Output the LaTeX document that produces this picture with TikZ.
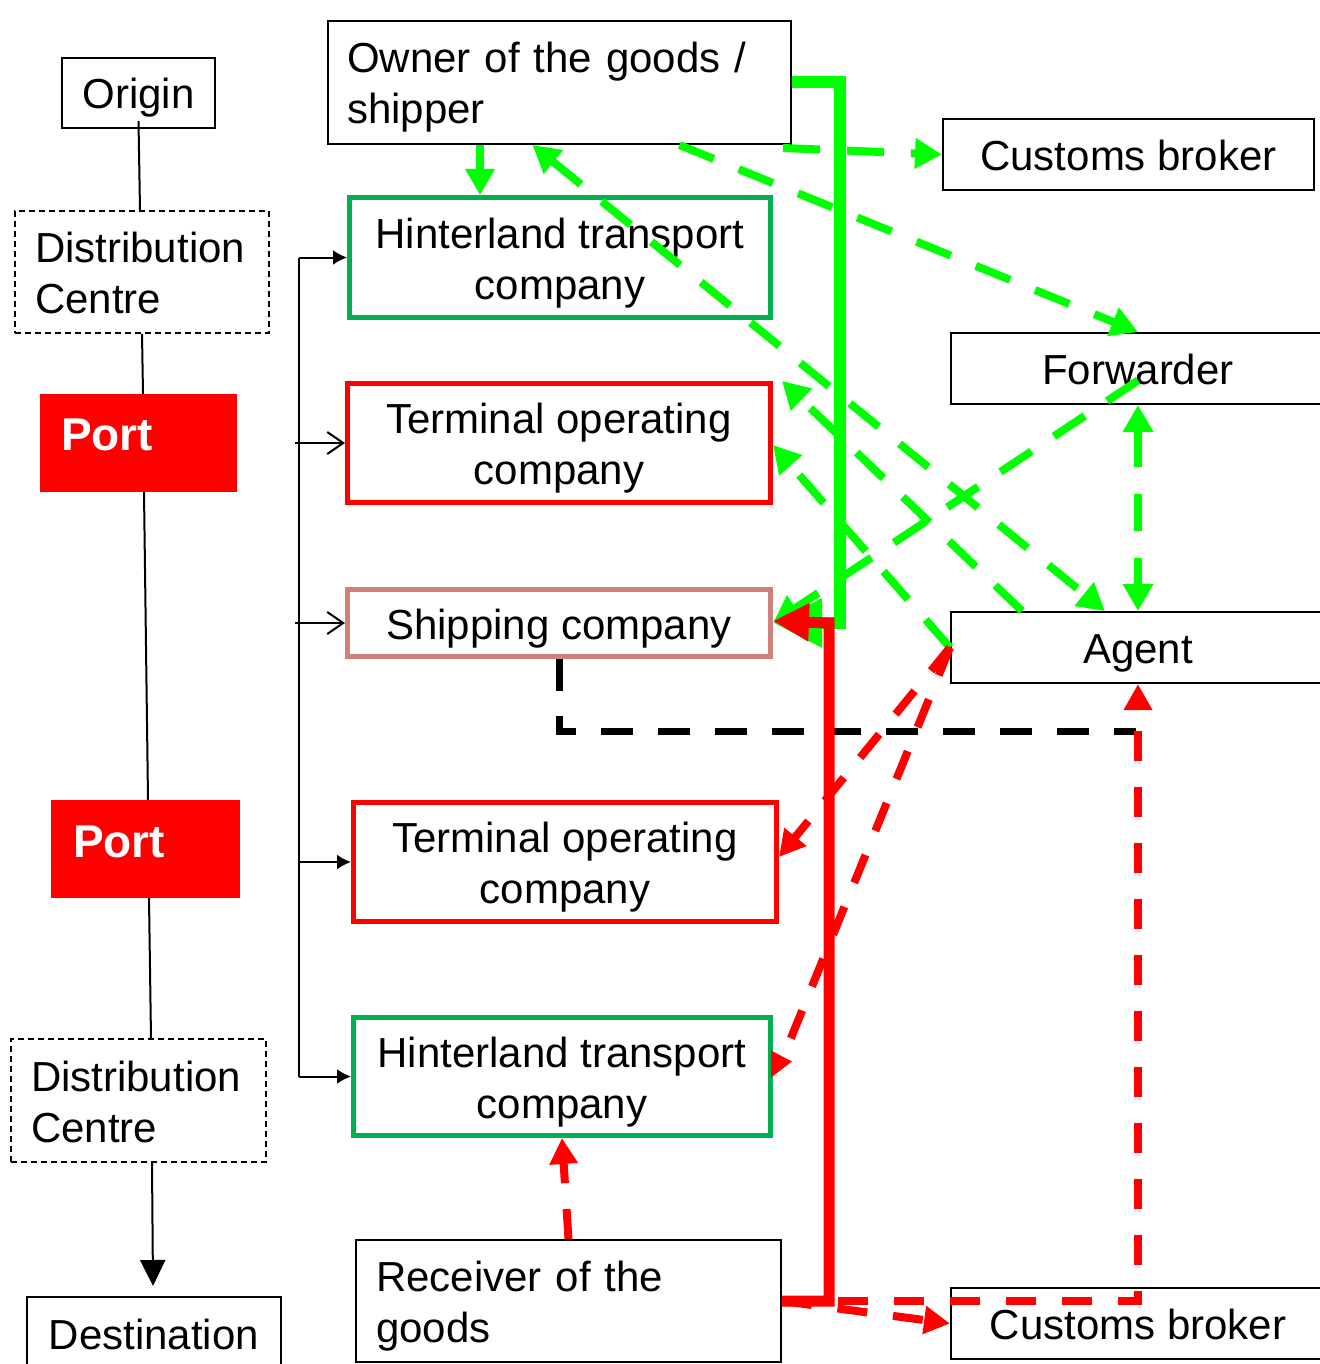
\documentclass[tikz,border=0pt]{standalone}
\usepackage{fontspec}
\setmainfont{Liberation Sans}
\usetikzlibrary{arrows.meta}
\definecolor{lime}{RGB}{0,255,0}
\definecolor{boxgreen}{RGB}{0,176,80}
\definecolor{boxred}{RGB}{255,0,0}
\definecolor{rosy}{RGB}{208,128,122}
\tikzset{
  gtip/.tip={Triangle[length=27pt,width=29pt]},
  rtip/.tip={Triangle[length=26pt,width=27pt]},
}
\begin{document}
\begin{tikzpicture}[x=1pt,y=-1pt,
  every node/.style={font=\fontsize{42}{51}\selectfont, inner sep=0pt},
  oneline/.style={text height=32pt, text depth=0pt},
  twoline/.style={text height=32pt, text depth=51pt},
  twolinec/.style={text height=83pt, text depth=0pt},
  thinbox/.style={draw=black, line width=2pt},
  dashbox/.style={draw=black, line width=1.6pt, dash pattern=on 6pt off 4pt},
  portbox/.style={fill=boxred, text=white, font=\fontsize{46}{51}\selectfont\bfseries},
  greenbox/.style={draw=boxgreen, line width=5pt, align=center},
  redbox/.style={draw=boxred, line width=5pt, align=center},
  rosybox/.style={draw=rosy, line width=5pt, align=center},
  wire/.style={draw=black, line width=2pt},
  gsolid/.style={draw=lime, line width=8pt},
  gdash/.style={draw=lime, line width=8pt, dash pattern=on 37pt off 27pt},
  rdash/.style={draw=red, line width=8pt, dash pattern=on 30pt off 26pt},
  kdash/.style={draw=black, line width=7pt, dash pattern=on 32pt off 25pt},
]
\useasboundingbox (0,0) rectangle (1319,1364);
\fill[white] (0,0) rectangle (1319,1364);

% chain of places, left column
\node[thinbox, oneline, minimum width=153pt, minimum height=70pt] (origin) at (138.5,93) {Origin};
\node[dashbox, twoline, minimum width=254pt, minimum height=122pt, text width=214pt, align=left] (dc1) at (142,272) {Distribution\\Centre};
\node[portbox, minimum width=197pt, minimum height=98pt, text width=155pt, align=left, text depth=16pt] (port1) at (138.5,443) {Port};
\node[portbox, minimum width=189pt, minimum height=98pt, text width=145pt, align=left, text depth=14pt] (port2) at (145.5,849) {Port};
\node[dashbox, twoline, minimum width=255pt, minimum height=123pt, text width=215pt, align=left] (dc2) at (138.5,1100.5) {Distribution\\Centre};
\node[thinbox, oneline, minimum width=254pt, minimum height=72pt] (dest) at (154,1333) {Destination};

% actors, middle column
\node[thinbox, twoline, minimum width=463pt, minimum height=123pt, text width=425pt, align=left] (owner) at (559.5,82.5) {Owner of the goods /\\shipper};
\node[greenbox, twolinec, minimum width=421pt, minimum height=120pt] (hint1) at (560,257.5) {Hinterland transport\\company};
\node[redbox, twolinec, minimum width=423pt, minimum height=119pt] (term1) at (559,443) {Terminal operating\\company};
\node[rosybox, oneline, minimum width=423pt, minimum height=67pt] (ship) at (559,623) {Shipping company};
\node[redbox, twolinec, minimum width=423pt, minimum height=119pt] (term2) at (565,862) {Terminal operating\\company};
\node[greenbox, twolinec, minimum width=417pt, minimum height=118pt] (hint2) at (562,1076.5) {Hinterland transport\\company};
\node[thinbox, twoline, minimum width=425pt, minimum height=122pt, text width=385pt, align=left] (receiver) at (568.5,1301) {Receiver of the\\goods};

% intermediaries, right column
\node[thinbox, oneline, minimum width=371pt, minimum height=71pt] (cb1) at (1128.5,154.5) {Customs broker};
\node[thinbox, oneline, minimum width=374pt, minimum height=71pt] (fwd) at (1138,368.5) {Forwarder};
\node[thinbox, oneline, minimum width=374pt, minimum height=71pt] (agent) at (1138,647.5) {Agent};
\node[thinbox, oneline, minimum width=374pt, minimum height=71pt] (cb2) at (1138,1323.5) {Customs broker};

% helper coordinates
\coordinate (bus) at (299,0);
\coordinate (busL) at (295,0);
\coordinate (gx) at (480,0);
\coordinate (gv) at (840,0);
\coordinate (rv) at (829,0);
\coordinate (blk) at (1136,731);

% left chain
\draw[wire] ([yshift=8pt]origin.south) -- ([xshift=-2pt]dc1.north);
\draw[wire] (dc1.south) -- ([xshift=4.5pt]port1.north);
\draw[wire] ([xshift=5.5pt]port1.south) -- ([xshift=2.5pt]port2.north);
\draw[wire] ([xshift=3.5pt]port2.south) -- ([xshift=12.5pt]dc2.north);
\draw[wire, -{Triangle[length=26pt,width=25pt]}] ([xshift=13.5pt]dc2.south) -- ([xshift=-1pt,yshift=10pt]dest.north);

% bracket to the actors
\draw[wire] (bus |- hint1.west) -- (bus |- hint2.west);
\draw[wire, -{Latex[length=14pt,width=15pt]}] (bus |- hint1.west) -- (hint1.west);
\draw[wire, -{Straight Barb[length=16pt,width=22pt]}] (busL |- term1.west) -- (term1.west);
\draw[wire, -{Straight Barb[length=16pt,width=22pt]}] (busL |- ship.west) -- (ship.west);
\draw[wire, -{Latex[length=14pt,width=15pt]}] (bus |- term2.west) -- (term2.west);
\draw[wire, -{Latex[length=14pt,width=15pt]}] (bus |- hint2.west) -- (hint2.west);

% export side flows
\draw[lime, line width=12pt, -{Triangle[length=49pt,width=46pt]}] (owner.east) -- (gv |- owner.east) -- (gv |- ship.east) -- (ship.east);
\draw[gsolid, -{Triangle[length=26pt,width=28pt]}] (owner.south -| gx) -- (hint1.north -| gx);
\draw[gdash, -gtip] ([xshift=-9pt,yshift=-3pt]owner.south east) -- (cb1.west);
\draw[gdash, -gtip] ([xshift=120pt]owner.south) -- (fwd.north);
\draw[gdash, gtip-gtip] ([xshift=-27pt]owner.south) -- ([xshift=-33pt]agent.north);
\draw[gdash, -gtip] ([xshift=-116pt]agent.north) -- ([xshift=9pt]term1.north east);
\draw[gdash, -gtip] (agent.west) -- ([yshift=-2pt]term1.east);
\draw[gdash, -gtip] ([yshift=-12pt]fwd.center) -- (ship.east);
\draw[gdash, gtip-gtip] (fwd.south) -- (agent.north);

% shipping company to agent
\draw[kdash] (ship.south) -- (ship.south |- blk) -- (blk);

% import side flows
\draw[red, line width=11pt, -{Triangle[length=36pt,width=36pt]}] (receiver.east) -- (rv |- receiver.east) -- (rv |- ship.east) -- ([yshift=2pt]ship.east);
\draw[rdash, -rtip] (receiver.east) -- (cb2.west);
\draw[rdash, -rtip] (receiver.east) -| (agent.south);
\draw[rdash, -rtip] (agent.west) -- ([yshift=5pt]term2.east);
\draw[rdash] (agent.west) -- ([xshift=8pt,yshift=14pt]hint2.east);
\fill[red] ([xshift=-2pt,yshift=26pt]hint2.east) -- ([xshift=19pt,yshift=15pt]hint2.east) -- ([xshift=-2pt,yshift=-1pt]hint2.east) -- cycle;
\draw[rdash, -rtip] (receiver.north) -- (hint2.south);
\end{tikzpicture}
\end{document}
